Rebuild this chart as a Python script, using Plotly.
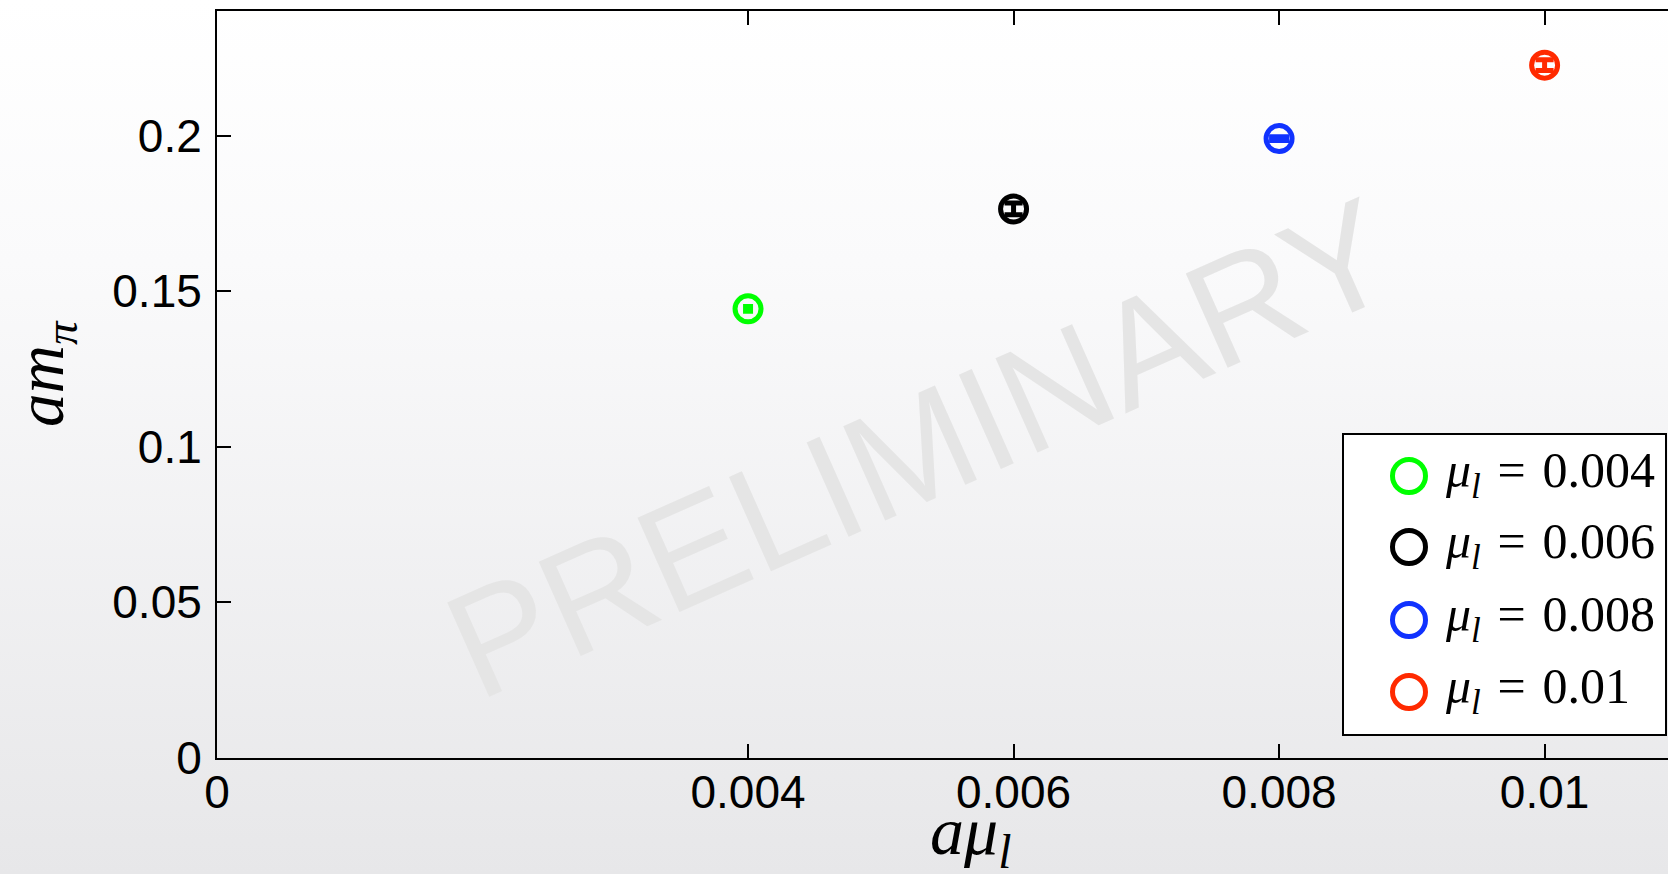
import base64
import plotly.graph_objects as go

# pion mass vs. light quark mass
mu_l = [0.004, 0.006, 0.008, 0.01]
am_pi = [0.1443, 0.1764, 0.1990, 0.2226]
am_pi_err = [0.0008, 0.0019, 0.0006, 0.0017]
labels = ["0.004", "0.006", "0.008", "0.01"]
colors = ["#00ff00", "#000000", "#1032ff", "#ff2a00"]
cap_half = [5, 9, 10, 9]

x_ticks = [0, 0.004, 0.006, 0.008, 0.01]
x_ticktext = ["0", "0.004", "0.006", "0.008", "0.01"]
y_ticks = [0, 0.05, 0.1, 0.15, 0.2]
y_ticktext = ["0", "0.05", "0.1", "0.15", "0.2"]

W, H = 1668, 874
ML, MR, MT, MB = 217, 0, 11, 116
PW, PH = W - ML - MR, H - MT - MB
X_MAX = PW / 132760.0   # keeps 0.001 per 132.76 px
Y_MAX = 0.24


def px_x(p):
    return (p - ML) / PW


def px_y(p):
    return (H - MB - p) / PH


fig = go.Figure()

for x, y, e, lab, c, cw in zip(mu_l, am_pi, am_pi_err, labels, colors, cap_half):
    fig.add_trace(go.Scatter(
        x=[x], y=[y], mode="markers", name="μl = " + lab,
        marker=dict(symbol="circle-open", size=26, color=c, line=dict(width=5, color=c)),
        error_y=dict(type="data", array=[e], visible=True, color=c, thickness=5, width=cw),
        showlegend=False, cliponaxis=False,
    ))

# slide-style vertical gradient behind everything
svg = (
    f'<svg xmlns="http://www.w3.org/2000/svg" width="{W}" height="{H}" preserveAspectRatio="none">'
    '<defs><linearGradient id="g" x1="0" y1="0" x2="0" y2="1">'
    '<stop offset="0" stop-color="#ffffff"/>'
    '<stop offset="0.3" stop-color="#fafafb"/>'
    '<stop offset="1" stop-color="#e7e7e9"/>'
    '</linearGradient></defs>'
    f'<rect width="{W}" height="{H}" fill="url(#g)"/></svg>'
)
bg_src = "data:image/svg+xml;base64," + base64.b64encode(svg.encode()).decode()

fig.add_layout_image(dict(
    source=bg_src, xref="paper", yref="paper",
    x=px_x(0), y=px_y(0), sizex=W / PW, sizey=H / PH,
    xanchor="left", yanchor="top", sizing="stretch", layer="below",
))

annotations = []
shapes = []

# watermark
annotations.append(dict(
    text="PRELIMINARY", xref="paper", yref="paper", x=px_x(920), y=px_y(448),
    xanchor="center", yanchor="middle", showarrow=False, textangle=-24,
    font=dict(family="Liberation Sans, Arial", size=150, color="#e5e5e5"),
))

# axis titles
annotations.append(dict(
    text="<i>am</i><sub><i>π</i></sub>", xref="paper", yref="paper",
    x=px_x(45), y=px_y(374), xanchor="center", yanchor="middle",
    showarrow=False, textangle=-90,
    font=dict(family="Liberation Serif, Times New Roman", size=67, color="black"),
))
annotations.append(dict(
    text="<i>aμ</i><sub><i>l</i></sub>", xref="paper", yref="paper",
    x=px_x(970), y=px_y(835), xanchor="center", yanchor="middle", showarrow=False,
    font=dict(family="Liberation Serif, Times New Roman", size=68, color="black"),
))

# legend box
shapes.append(dict(
    type="rect", xref="paper", yref="paper",
    x0=px_x(1343), x1=px_x(1666), y0=px_y(735), y1=px_y(434),
    line=dict(color="black", width=2), fillcolor="white", layer="above",
))
row_y = [476, 547, 620, 692]
for ry, lab, c in zip(row_y, labels, colors):
    r = 16.5
    shapes.append(dict(
        type="circle", xref="paper", yref="paper",
        x0=px_x(1409 - r), x1=px_x(1409 + r), y0=px_y(ry + r), y1=px_y(ry - r),
        line=dict(color=c, width=5), layer="above",
    ))
    annotations.append(dict(
        text="<i>μ</i><sub><i>l</i></sub>\u2004=\u2004" + lab, xref="paper", yref="paper",
        x=px_x(1443), y=px_y(ry - 2), xanchor="left", yanchor="middle", showarrow=False,
        font=dict(family="Liberation Serif, Times New Roman", size=50, color="black"),
    ))

axis_font = dict(family="Liberation Sans, Arial", size=46, color="black")

fig.update_layout(
    width=W, height=H,
    margin=dict(l=ML, r=MR, t=MT, b=MB, pad=0),
    paper_bgcolor="rgba(0,0,0,0)", plot_bgcolor="rgba(0,0,0,0)",
    showlegend=False,
    annotations=annotations, shapes=shapes,
    xaxis=dict(
        range=[0, X_MAX], tickvals=x_ticks, ticktext=x_ticktext,
        showgrid=False, zeroline=False, showline=True, linecolor="black", linewidth=2,
        mirror="ticks", ticks="inside", ticklen=14, tickwidth=1.5, tickcolor="black",
        tickfont=axis_font, ticklabelstandoff=-7,
    ),
    yaxis=dict(
        range=[0, Y_MAX], tickvals=y_ticks, ticktext=y_ticktext,
        showgrid=False, zeroline=False, showline=True, linecolor="black", linewidth=2,
        mirror=False, ticks="inside", ticklen=14, tickwidth=1.5, tickcolor="black",
        tickfont=axis_font, ticklabelstandoff=4,
    ),
)

fig.write_html("out.html")
